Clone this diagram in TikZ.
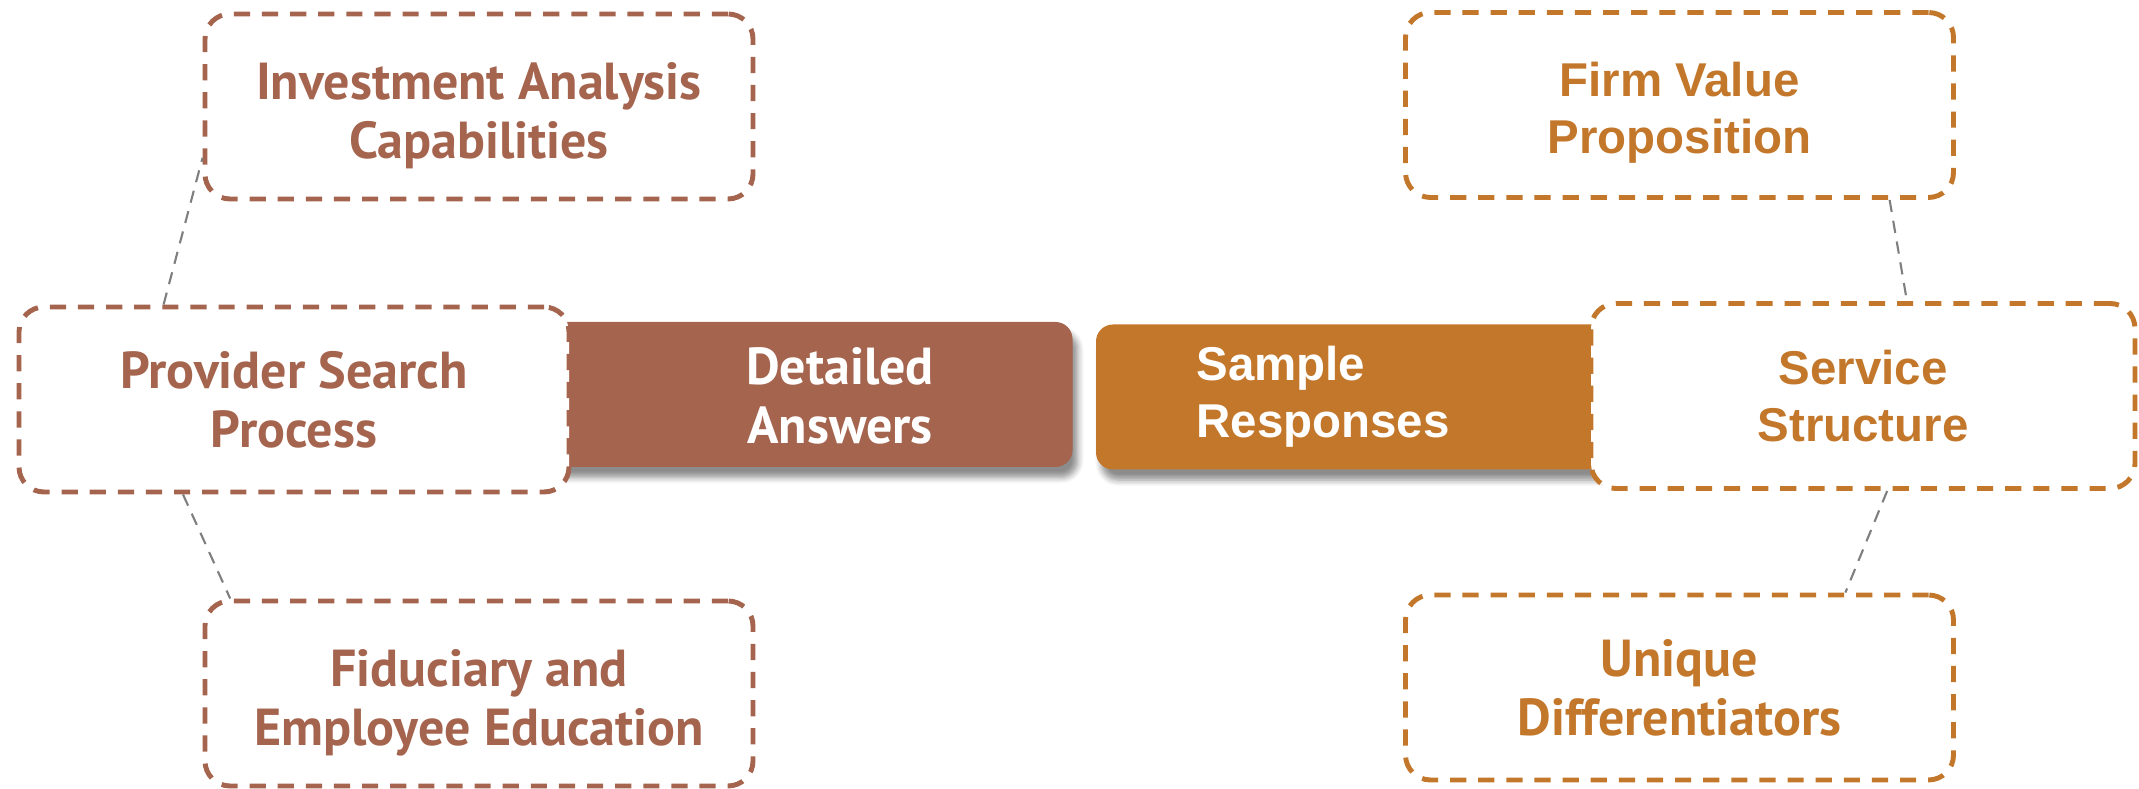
\documentclass[tikz,border=0pt]{standalone}
\usepackage{fontspec}
\setsansfont{PT Sans}
\newfontfamily\arialfont{Liberation Sans}
\usetikzlibrary{calc,shadows.blur}

\definecolor{rust}{HTML}{A5644E}
\definecolor{ochre}{HTML}{C3772B}
\definecolor{linkgray}{HTML}{7F7F7F}

\begin{document}
\begin{tikzpicture}[font=\sffamily\bfseries\fontsize{14.8}{16.8}\selectfont,
    topic/.style={draw=#1,text=#1,fill=white,line width=1.4pt,dash pattern=on 4.6pt off 3.4pt,
        rounded corners=0.25cm,minimum width=5.48cm,minimum height=1.85cm,align=center},
    hub/.style={fill=#1,rounded corners=0.17cm,minimum width=5.25cm,minimum height=1.45cm,
        blur shadow={shadow xshift=1.5pt,shadow yshift=-3pt,shadow opacity=45,shadow blur steps=6}},
    arialbf/.style={font=\arialfont\bfseries\fontsize{13.5}{16.2}\selectfont},
    link/.style={linkgray,line width=0.6pt,dash pattern=on 3.5pt off 2.5pt}]
    \useasboundingbox (0,0) rectangle (21.39,7.89);

    % the two centre boxes
    \node[hub=rust] (det) at (8.10,3.945) {};
    \node[hub=ochre] (samp) at (13.585,3.92) {};
    \node[white,align=center] (detlbl) at (8.40,3.93) {Detailed\\Answers};
    \node[white,align=left,anchor=west,arialbf] (samplbl) at (11.84,3.92) {Sample\\Responses};

    % left side
    \node[topic=rust] (inv) at (4.79,6.825) {\rule{0pt}{16pt}Investment Analysis\\Capabilities};
    \node[topic=rust,minimum width=5.50cm] (prov) at (2.94,3.895) {Provider Search\\Process};
    \node[topic=rust] (fid) at (4.79,0.955) {\rule{0pt}{16pt}Fiduciary and\\Employee Education};

    % right side
    \node[topic=ochre,arialbf] (firm) at (16.795,6.84) {\rule{0pt}{14pt}Firm Value\\Proposition};
    \node[topic=ochre,arialbf,minimum width=5.44cm] (serv) at (18.63,3.93) {Service\\Structure};
    \node[topic=ochre] (uniq) at (16.795,1.015) {Unique\\Differentiators};

    % dashed links
    \draw[link] ($(prov.north west)!0.265!(prov.north east)$) -- ($(inv.north west)!0.77!(inv.south west)$);
    \draw[link] ($(prov.south west)!0.30!(prov.south east)$) -- ($(fid.north west)!0.05!(fid.north east)$);
    \draw[link] ($(firm.south west)!0.88!(firm.south east)$) -- ($(serv.north west)!0.58!(serv.north east)$);
    \draw[link] ($(serv.south west)!0.544!(serv.south east)$) -- ($(uniq.north west)!0.80!(uniq.north east)$);
\end{tikzpicture}
\end{document}
